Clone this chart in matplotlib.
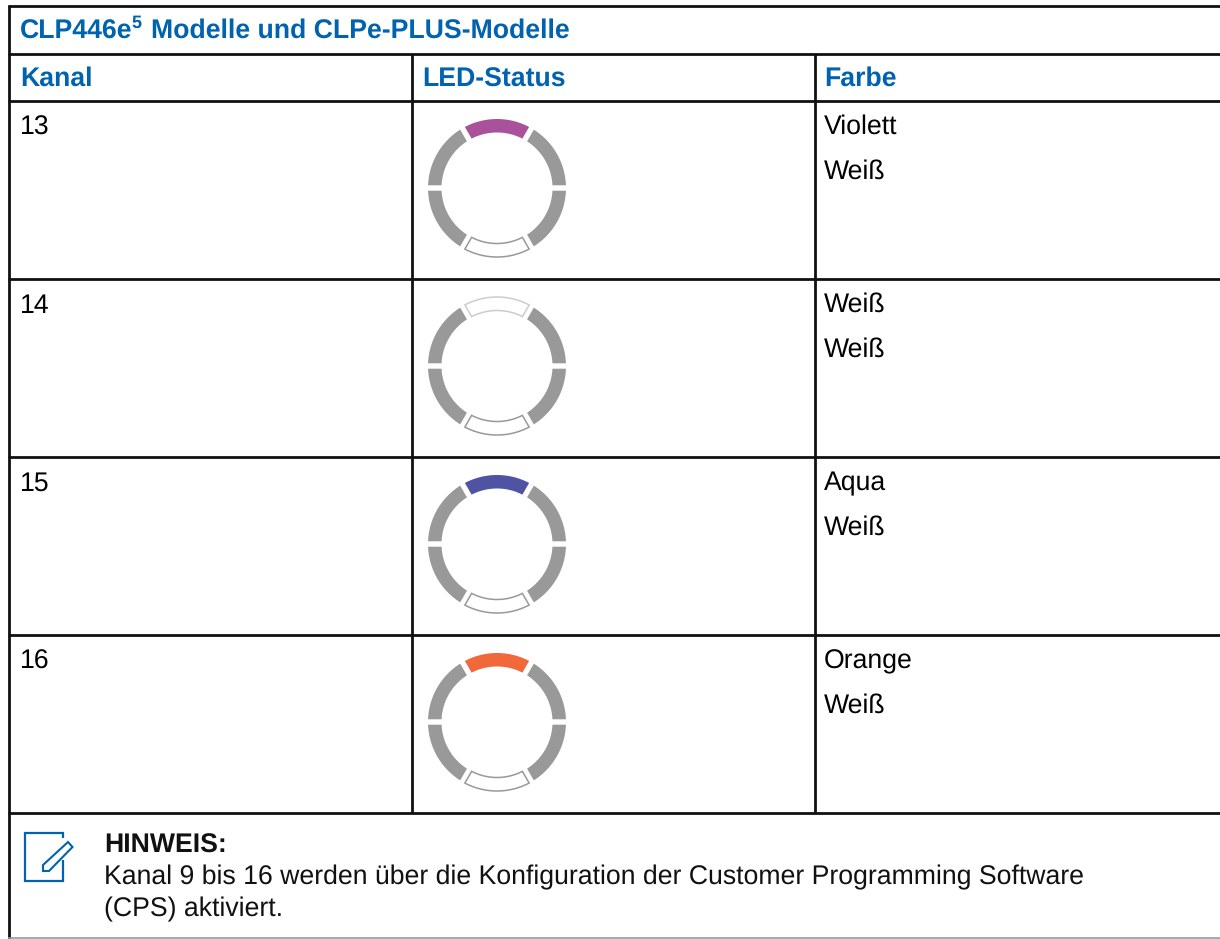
import numpy as np
import matplotlib
matplotlib.use("Agg")
import matplotlib.pyplot as plt
from matplotlib.patches import Polygon

plt.rcParams["font.family"] = ["Liberation Sans", "DejaVu Sans"]
plt.rcParams["text.hinting"] = "no_hinting"
plt.rcParams["text.hinting_factor"] = 8

title = "Modelle und CLPe-PLUS-Modelle"
headers = ["Kanal", "LED-Status", "Farbe"]
channels = ["13", "14", "15", "16"]
colors_1 = ["Violett", "Weiß", "Aqua", "Orange"]
colors_2 = ["Weiß", "Weiß", "Weiß", "Weiß"]
top_leds = ["#AA519C", None, "#4F53A3", "#F1693A"]
note_head = "HINWEIS:"
note_lines = ["Kanal 9 bis 16 werden über die Konfiguration der Customer Programming Software",
              "(CPS) aktiviert."]

BLUE = "#0063B0"
GRAY = "#999999"
FS = 19.2

fig = plt.figure(figsize=(12.2, 9.39), dpi=100)
ax = fig.add_axes([0, 0, 1, 1])
ax.set_xlim(0, 1220)
ax.set_ylim(939, 0)
ax.axis("off")

# table lines
rows_y = [6, 54, 101, 279, 457, 635, 813]
for y in rows_y:
    ax.plot([8, 1220], [y, y], color="#111111", lw=2.0, solid_capstyle="butt")
ax.plot([9, 9], [5, 939], color="#111111", lw=2.0, solid_capstyle="butt")
for x in [411.5, 814.5]:
    ax.plot([x, x], [54, 813], color="#111111", lw=2.0, solid_capstyle="butt")
ax.plot([9, 1220], [938, 938], color="#999999", lw=1.2)


def segment(cx, cy, a0, a1, fill, edge=None):
    # ring piece with straight gaps, angles in degrees from +x, y up
    ro, ri, g = 69.0, 55.5, 2.7
    pts = []
    for r, s, e in [(ro, a0, a1), (ri, a1, a0)]:
        d = np.degrees(np.arcsin(g / r))
        lo, hi = (s + d, e - d) if s < e else (s - d, e + d)
        t = np.radians(np.linspace(lo, hi, 40))
        pts += list(zip(cx + r * np.cos(t), cy - r * np.sin(t)))
    if edge:
        ax.add_patch(Polygon(pts, closed=True, fc="white", ec=edge, lw=1.1))
    else:
        ax.add_patch(Polygon(pts, closed=True, fc=fill, ec="none"))


for i, y in enumerate(rows_y[2:6]):
    cx, cy = 497, y + 87
    ax.text(20, y + 33.6, channels[i], fontsize=FS, color="black", va="baseline", ha="left")
    ax.text(824, y + 33, colors_1[i], fontsize=FS, color="black", va="baseline", ha="left")
    ax.text(824, y + 78, colors_2[i], fontsize=FS, color="black", va="baseline", ha="left")
    for a0, a1 in [(0, 60), (120, 180), (180, 240), (300, 360)]:
        segment(cx, cy, a0, a1, GRAY)
    if top_leds[i]:
        segment(cx, cy, 60, 120, top_leds[i])
    else:
        segment(cx, cy, 60, 120, None, edge="#CCCCCC")
    segment(cx, cy, 240, 300, None, edge="#999999")

# title with superscript
ax.text(20, 38.6, "CLP446e", fontsize=FS, fontweight="bold", color=BLUE, va="baseline")
ax.text(131, 28, "5", fontsize=13, fontweight="bold", color=BLUE, va="baseline")
ax.text(151, 38, title, fontsize=FS, fontweight="bold", color=BLUE, va="baseline")
for x, h, by in zip([20, 422, 824], headers, [86, 86.7, 86]):
    ax.text(x, by, h, fontsize=FS, fontweight="bold", color=BLUE, va="baseline")

# note
ax.text(104, 853, note_head, fontsize=FS, fontweight="bold", color="#111111", va="baseline")
ax.text(104, 884, note_lines[0], fontsize=FS, color="#111111", va="baseline")
ax.text(104, 916, note_lines[1], fontsize=FS, color="#111111", va="baseline")

# note icon
ax.plot([62.5, 62.5, 25, 25, 62.5, 62.5], [838, 833, 833, 881, 881, 860], color=BLUE, lw=1.6,
        solid_joinstyle="miter", solid_capstyle="butt")
ax.add_patch(Polygon([(43, 871), (43, 865), (68, 842), (72.5, 847), (49, 871)], closed=True,
                     fc="white", ec=BLUE, lw=1.5, joinstyle="miter"))

fig.savefig("out.png", dpi=100)
